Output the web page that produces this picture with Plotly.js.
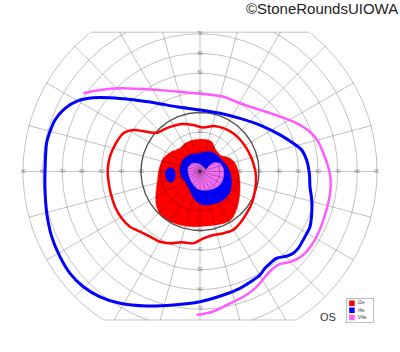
<!DOCTYPE html>
<html>
<head>
<meta charset="utf-8">
<script src="https://cdn.plot.ly/plotly-3.0.1.min.js"></script>
<style>html,body{margin:0;padding:0;background:#fff;}#chart{width:400px;height:352px;}</style>
</head>
<body>
<div id="chart"></div>
<script>
// ---------- data (degrees of visual field: x = horizontal, y = vertical) ----------
const isopterNames = ['I2e', 'I4e', 'V4e'];
const isopterColors = ['#ff0000', '#0000ff', '#ff5cff'];

// I2e isopter line (red)
const i2eLineX = [-45.8,-43.2,-39.0,-33.9,-27.1,-22.0,-16.9,-10.2,-3.4,1.7,6.8,11.9,16.9,21.2,24.6,27.1,28.5,28.0,26.3,23.7,20.3,16.9,11.9,6.8,1.7,-3.4,-9.3,-15.3,-20.3,-25.4,-30.5,-35.6,-39.8,-43.2,-45.4,-46.6,-46.9,-45.8];
const i2eLineY = [7.5,13.5,19.4,21.1,20.2,19.7,22.0,24.0,23.6,22.3,23.1,22.0,19.4,15.2,10.1,4.2,-2.6,-9.4,-16.2,-21.3,-26.3,-29.7,-31.4,-32.3,-34.0,-36.5,-36.0,-36.5,-35.7,-33.1,-30.6,-28.1,-23.8,-17.9,-11.1,-4.3,0.8,7.5];

// I4e isopter line (blue)
const i4eLineX = [-78.8,-78.0,-76.6,-73.7,-68.6,-61.9,-54.2,-45.8,-33.9,-22.0,-11.9,0,10.2,20.3,30.5,40.7,47.4,51.7,54.2,55.6,55.9,56.8,56.8,55.9,53.4,50.0,47.4,44.1,39.0,35.6,33.0,30.5,27.1,20.3,11.9,0,-13.6,-27.1,-40.7,-50.8,-59.3,-66.1,-71.2,-75.4,-77.9,-78.8,-78.8];
const i4eLineY = [-0.1,14.3,19.4,26.2,32.1,36.0,37.5,37.5,36.4,34.7,32.9,31.3,29.6,27.0,23.6,18.6,14.3,10.9,5.8,-0.9,-7.7,-14.5,-21.3,-28.1,-33.1,-39.0,-41.6,-43.0,-44.1,-46.7,-49.2,-52.6,-55.2,-59.4,-62.8,-66.2,-67.9,-68.4,-67.0,-63.7,-58.6,-51.8,-43.3,-33.1,-21.3,-9.4,-0.1];

// V4e isopter line (pink, open)
const v4eLineX = [-59.3,-50.8,-40.7,-28.8,-16.9,-6.8,3.4,11.9,20.3,30.5,40.7,49.2,55.9,60.1,62.7,65.2,66.4,66.1,64.7,62.7,60.1,56.8,52.5,48.3,44.1,40.7,37.3,33.9,30.5,27.1,22.0,15.3,8.5,3.4,-1.7];
const v4eLineY = [39.8,41.4,42.3,41.9,41.1,40.1,39.2,38.0,34.7,31.3,27.9,24.5,20.2,15.2,9.3,2.4,-4.3,-11.1,-17.9,-24.7,-31.4,-37.4,-42.4,-45.0,-46.4,-47.0,-49.2,-52.6,-56.8,-60.2,-63.7,-67.0,-70.4,-72.1,-73.0];

// I2e filled area (red)
const i2eFillX = [-7.6,-3.4,1.7,5.9,7.6,10.2,15.3,17.8,19.5,20.3,20.3,19.5,17.8,15.3,10.2,3.4,-3.4,-10.2,-16.9,-20.7,-22.4,-22.4,-21.7,-20.7,-18.6,-14.4,-10.2,-7.6];
const i2eFillY = [14.3,16.0,16.4,15.2,11.8,8.4,6.7,4.2,-0.1,-5.2,-10.3,-16.2,-21.3,-25.0,-26.8,-27.7,-28.1,-27.2,-24.7,-21.3,-16.2,-11.1,-5.2,1.6,6.7,10.1,11.8,14.3];

// I4e filled areas (blue)
const i4eFillX = [-10.2,-8.8,-5.1,0,4.2,7.6,11.0,13.9,15.6,15.9,14.2,10.6,6.2,2.5,-0.8,-3.4,-5.4,-7.1,-9.3,-10.2];
const i4eFillY = [0.8,5.8,8.4,9.2,10.1,9.2,5.8,2.4,-1.8,-8.0,-12.2,-15.2,-16.6,-17.0,-16.0,-13.2,-9.0,-5.7,-2.9,0.8];
const i4eIslandX = [-15.3,-13.2,-12.6,-13.0,-14.6,-16.6,-17.6,-17.2,-15.3];
const i4eIslandY = [2.0,1.0,-1.5,-4.0,-5.6,-4.5,-2.0,0.5,2.0];

// V4e filled area (pink)
const v4eFillX = [-6.0,-4.0,-1.0,1.5,3.0,5.0,7.6,10.2,11.8,12.0,10.8,8.5,5.0,1.5,-1.7,-4.2,-5.8,-6.0];
const v4eFillY = [2.0,4.0,4.0,2.5,1.0,3.3,4.6,4.0,1.5,-2.5,-5.8,-8.0,-9.3,-9.6,-8.5,-5.5,-1.5,2.0];

// grid
const ringRadii = [10,20,30,40,50,60,70,80,90];
const meridianAngles = [0,15,30,45,60,75,90,105,120,135,150,165,180,195,210,225,240,255,270,285,300,315,330,345];
const horizTickValues = [-90,-80,-70,-60,-50,-40,-30,-20,-10,10,20,30,40,50,60,70,80,90];
const vertTickValues = [-70,-60,-50,-40,-30,-20,-10,10,20,30,40,50,60,70];

// ---------- geometry helpers ----------
const TOP = 70.8, BOT = -75.5, RMAX = 90;
const D = Math.PI / 180;
const gx = [], gy = [];
ringRadii.forEach(r => {
  if (r === 30) return;
  let prevIn = false;
  for (let a = 0; a <= 360; a += 0.5) {
    const x = r * Math.cos(a * D), y = r * Math.sin(a * D);
    if (y > TOP || y < BOT) { if (prevIn) { gx.push(null); gy.push(null); } prevIn = false; }
    else { gx.push(x); gy.push(y); prevIn = true; }
  }
  gx.push(null); gy.push(null);
});
meridianAngles.forEach(a => {
  const s = Math.sin(a * D), c = Math.cos(a * D);
  let R = RMAX;
  if (s > 1e-9) R = Math.min(R, TOP / s);
  if (s < -1e-9) R = Math.min(R, BOT / s);
  gx.push(0, R * c, null); gy.push(0, R * s, null);
});
const wTop = Math.sqrt(RMAX * RMAX - TOP * TOP), wBot = Math.sqrt(RMAX * RMAX - BOT * BOT);
gx.push(-wTop, wTop, null, -wBot, wBot, null); gy.push(TOP, TOP, null, BOT, BOT, null);

const r30x = [], r30y = [];
for (let a = 0; a <= 360; a += 1) { r30x.push(30 * Math.cos(a * D)); r30y.push(30 * Math.sin(a * D)); }

const labX = [], labY = [], labT = [];
horizTickValues.forEach(v => { labX.push(v); labY.push(0); labT.push(String(Math.abs(v))); });
vertTickValues.forEach(v => { labX.push(0); labY.push(v); labT.push(String(Math.abs(v))); });

const traces = [];
traces.push({ x: labX, y: labY, text: labT, mode: 'text', textfont: { size: 5, color: '#9a9a9a', family: 'Liberation Sans, Arial' }, hoverinfo: 'skip', showlegend: false });

function fillTrace(x, y, color) {
  return { x, y, mode: 'lines', fill: 'toself', fillcolor: color, line: { color: color, width: 0.5, shape: 'spline', smoothing: 0.8 }, hoverinfo: 'skip', showlegend: false };
}
traces.push(fillTrace(i2eFillX, i2eFillY, isopterColors[0]));
traces.push(fillTrace(i4eIslandX, i4eIslandY, isopterColors[1]));
traces.push(fillTrace(i4eFillX, i4eFillY, isopterColors[1]));
traces.push(fillTrace(v4eFillX, v4eFillY, '#f26ef2'));

traces.push({ x: gx, y: gy, mode: 'lines', line: { color: 'rgba(0,0,0,0.24)', width: 1 }, hoverinfo: 'skip', showlegend: false });
traces.push({ x: r30x, y: r30y, mode: 'lines', line: { color: '#555555', width: 1.4 }, hoverinfo: 'skip', showlegend: false });

function lineTrace(x, y, color, w) {
  return { x, y, mode: 'lines', line: { color: color, width: w, shape: 'spline', smoothing: 0.8 }, hoverinfo: 'skip', showlegend: false };
}
traces.push(lineTrace(i2eLineX, i2eLineY, isopterColors[0], 2.5));
traces.push(lineTrace(i4eLineX, i4eLineY, isopterColors[1], 3));
traces.push(lineTrace(v4eLineX, v4eLineY, isopterColors[2], 2.5));

// custom small legend
traces.push({ x: [0.2, 0.2, 0.2], y: [2.45, 1.5, 0.55], mode: 'markers', marker: { symbol: 'square', size: 5.5, color: isopterColors }, xaxis: 'x2', yaxis: 'y2', hoverinfo: 'skip', showlegend: false });
traces.push({ x: [0.42, 0.42, 0.42], y: [2.45, 1.5, 0.55], text: isopterNames, mode: 'text', textposition: 'middle right', textfont: { size: 5, color: '#444', family: 'Liberation Sans, Arial' }, xaxis: 'x2', yaxis: 'y2', hoverinfo: 'skip', showlegend: false, cliponaxis: false });

const layout = {
  width: 400, height: 352,
  margin: { l: 0, r: 0, t: 0, b: 0 },
  paper_bgcolor: '#ffffff', plot_bgcolor: 'rgba(0,0,0,0)',
  showlegend: false,
  xaxis: { range: [-91, 91], domain: [0.0525, 0.9475], showgrid: false, zeroline: false, showticklabels: false, ticks: '', showline: false, fixedrange: true },
  yaxis: { range: [-76.0, 71.4], domain: [0.0881, 0.9119], showgrid: false, zeroline: false, showticklabels: false, ticks: '', showline: false, fixedrange: true },
  xaxis2: { range: [0, 1], domain: [0.8668, 0.9318], anchor: 'y2', showgrid: false, zeroline: false, showticklabels: false, ticks: '', showline: true, mirror: true, linecolor: '#bdbdbd', linewidth: 1 },
  yaxis2: { range: [0, 3], domain: [0.0861, 0.1506], anchor: 'x2', showgrid: false, zeroline: false, showticklabels: false, ticks: '', showline: true, mirror: true, linecolor: '#bdbdbd', linewidth: 1 },
  annotations: [
    { text: '©StoneRoundsUIOWA', xref: 'paper', yref: 'paper', x: 1.0, y: 0.975, xanchor: 'right', yanchor: 'middle', showarrow: false, font: { size: 15, color: '#222', family: 'Liberation Sans, Arial' } },
    { text: 'OS', xref: 'paper', yref: 'paper', x: 0.82, y: 0.1, xanchor: 'center', yanchor: 'middle', showarrow: false, font: { size: 11, color: '#333', family: 'Liberation Sans, Arial' } }
  ]
};

Plotly.newPlot('chart', traces, layout, { displayModeBar: false, staticPlot: true });
</script>
</body>
</html>
